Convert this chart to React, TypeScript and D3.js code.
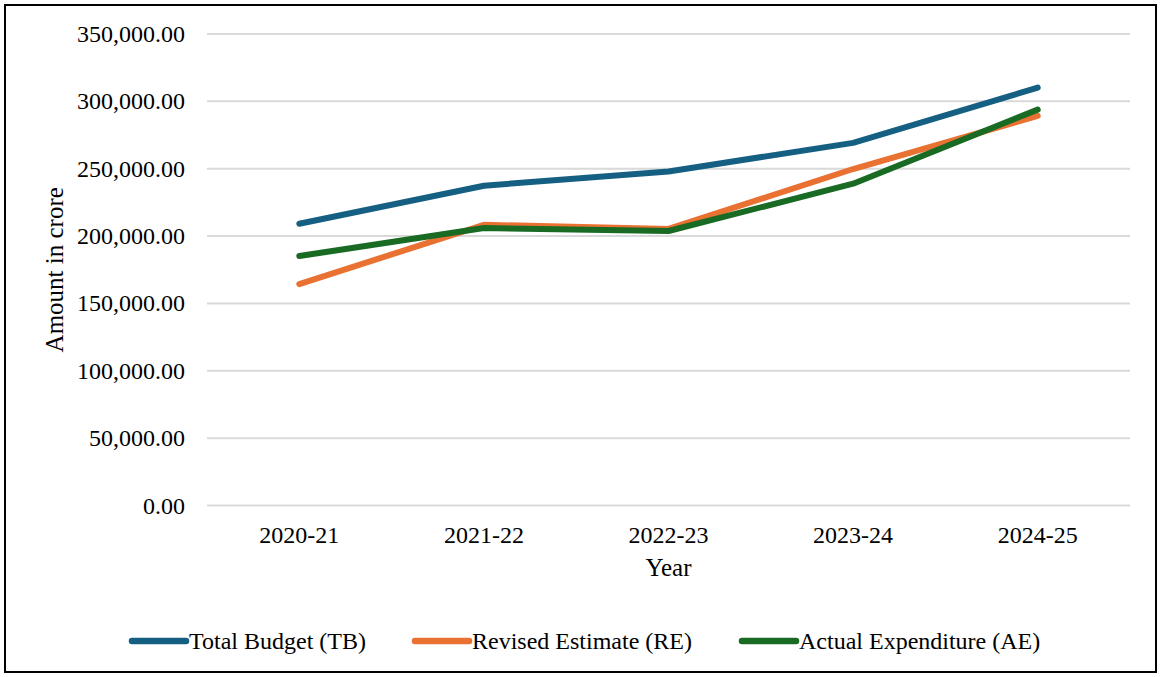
import React from "react";
import * as d3 from "d3";

const years = ["2020-21", "2021-22", "2022-23", "2023-24", "2024-25"];
const totalBudget = [209200, 237400, 248000, 269200, 310200];
const revisedEstimate = [164400, 208400, 205300, 249800, 289200];
const actualExpenditure = [185200, 206000, 203800, 238900, 293900];
const yTicks = [0, 50000, 100000, 150000, 200000, 250000, 300000, 350000];
const seriesNames = ["Total Budget (TB)", "Revised Estimate (RE)", "Actual Expenditure (AE)"];
const seriesColors = ["#156082", "#E97132", "#196B24"];

const W = 1161;
const H = 677;
const plot = { left: 207, right: 1130, top: 34, bottom: 505.6 };
const legendX = [132, 415, 742];
const font = "'Liberation Serif', 'Times New Roman', serif";

export default function App() {
  const x = d3.scaleBand<string>().domain(years).range([plot.left, plot.right]);
  const y = d3.scaleLinear().domain([0, 350000]).range([plot.bottom, plot.top]);
  const line = d3
    .line<number>()
    .x((_, i) => (x(years[i]) as number) + x.bandwidth() / 2)
    .y((d) => y(d));
  const fmt = d3.format(",.2f");
  const series = [totalBudget, revisedEstimate, actualExpenditure];

  return (
    <svg
      width={W}
      height={H}
      style={{ position: "absolute", left: 0, top: 0, background: "#fff" }}
      fontFamily={font}
    >
      <rect x={5} y={5} width={W - 10} height={H - 10} fill="#fff" stroke="#000" strokeWidth={2} />
      {yTicks.map((t) => (
        <g key={t}>
          <line x1={plot.left} x2={plot.right} y1={y(t)} y2={y(t)} stroke="#d9d9d9" strokeWidth={2} />
          <text x={185} y={y(t)} textAnchor="end" dominantBaseline="central" fontSize={24} fill="#000">
            {fmt(t)}
          </text>
        </g>
      ))}
      {years.map((yr) => (
        <text
          key={yr}
          x={(x(yr) as number) + x.bandwidth() / 2}
          y={543}
          textAnchor="middle"
          fontSize={24}
          fill="#000"
        >
          {yr}
        </text>
      ))}
      <text x={(plot.left + plot.right) / 2} y={576} textAnchor="middle" fontSize={25} fill="#000">
        Year
      </text>
      <text
        transform={`translate(63, ${(plot.top + plot.bottom) / 2}) rotate(-90)`}
        textAnchor="middle"
        fontSize={25}
        fill="#000"
      >
        Amount in crore
      </text>
      {series.map((s, i) => (
        <path
          key={i}
          d={line(s) as string}
          fill="none"
          stroke={seriesColors[i]}
          strokeWidth={6}
          strokeLinecap="round"
          strokeLinejoin="round"
        />
      ))}
      {seriesNames.map((n, i) => (
        <g key={n}>
          <line
            x1={legendX[i]}
            x2={legendX[i] + 54}
            y1={641}
            y2={641}
            stroke={seriesColors[i]}
            strokeWidth={6.5}
            strokeLinecap="round"
          />
          <text x={legendX[i] + 57} y={641} dominantBaseline="central" fontSize={24} fill="#000">
            {n}
          </text>
        </g>
      ))}
    </svg>
  );
}
